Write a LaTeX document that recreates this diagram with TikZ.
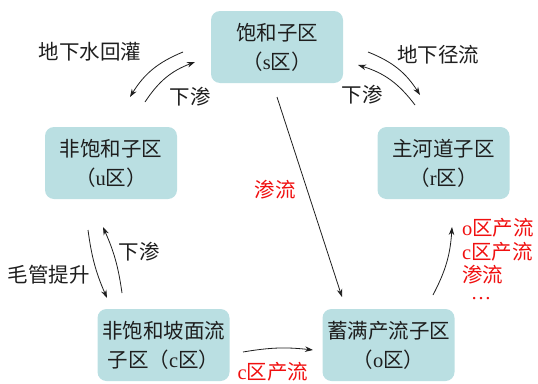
\documentclass[tikz,border=0pt]{standalone}
\usepackage{fontspec}
\setmainfont{Noto Sans CJK SC}
\newfontfamily\lat{Liberation Serif}
\usetikzlibrary{arrows.meta}
\definecolor{boxfill}{HTML}{BADFE2}
\definecolor{txt}{HTML}{1E1E1E}
\definecolor{redtxt}{HTML}{F01010}
\tikzset{
  zone/.style={rectangle, rounded corners=9pt, fill=boxfill, minimum width=132pt, minimum height=72pt, align=center, text=txt, inner sep=1pt, font=\fontsize{20.5}{29}\selectfont},
  lbl/.style={text=txt, font=\fontsize{20.5}{24}\selectfont, inner sep=0pt},
  rlbl/.style={text=redtxt, font=\fontsize{20.5}{24}\selectfont, inner sep=0pt},
  flow/.style={draw=txt, line width=0.8pt, -{Stealth[length=8pt,width=5.5pt]}}
}
\begin{document}
\begin{tikzpicture}[x=1pt,y=-1pt]
\useasboundingbox (0,0) rectangle (538,383);
\node[zone] (s) at (277,47) {饱和子区\\（{\lat s}区）};
\node[zone] (u) at (111,163) {非饱和子区\\（{\lat u}区）};
\node[zone] (r) at (443.5,163) {主河道子区\\（{\lat r}区）};
\node[zone] (c) at (163.5,345) {非饱和坡面流\\子区（{\lat c}区）};
\node[zone] (o) at (388.5,345) {蓄满产流子区\\（{\lat o}区）};

% free ends
\coordinate (su1) at (183,52);
\coordinate (su2) at (130,97);
\coordinate (us1) at (145,102);
\coordinate (us2) at (195,62);
\coordinate (sr1) at (368,52);
\coordinate (sr2) at (420,95);
\coordinate (rs1) at (415,105);
\coordinate (rs2) at (358,65);
\coordinate (so1) at (277,97);
\coordinate (so2) at (342,297);
\coordinate (uc1) at (88,230);
\coordinate (uc2) at (107,298);
\coordinate (cu1) at (122,293);
\coordinate (cu2) at (103,227);
\coordinate (co1) at (243,352);
\coordinate (co2) at (313,350);
\coordinate (or1) at (433,295);
\coordinate (or2) at (452,227);

\draw[flow] (su1) to[bend right=18] (su2);
\draw[flow] (us1) to[bend left=18] (us2);
\draw[flow] (sr1) to[bend left=18] (sr2);
\draw[flow] (rs1) to[bend right=18] (rs2);
\draw[flow] (so1) -- (so2);
\draw[flow] (uc1) to[bend right=8] (uc2);
\draw[flow] (cu1) to[bend right=8] (cu2);
\draw[flow] (co1) to[bend left=8] (co2);
\draw[flow] (or1) to[bend right=12] (or2);

\node[lbl] (l1) at (90,52) {地下水回灌};
\node[lbl] (l2) at (190,97) {下渗};
\node[lbl] (l3) at (438,55) {地下径流};
\node[lbl] (l4) at (362,95) {下渗};
\node[rlbl] (l5) at (275,190) {渗流};
\node[lbl] (l6) at (139,252) {下渗};
\node[lbl] (l7) at (49,275) {毛管提升};
\node[rlbl] (l8) at (273,372) {{\lat c}区产流};
\node[rlbl, anchor=west] (l9) at (462,228) {{\lat o}区产流};
\node[rlbl, anchor=west] (l10) at (462,252) {{\lat c}区产流};
\node[rlbl, anchor=west] (l11) at (462,275) {渗流};
\node[rlbl] (l12) at (481,299) {{\lat …}};
\end{tikzpicture}
\end{document}
